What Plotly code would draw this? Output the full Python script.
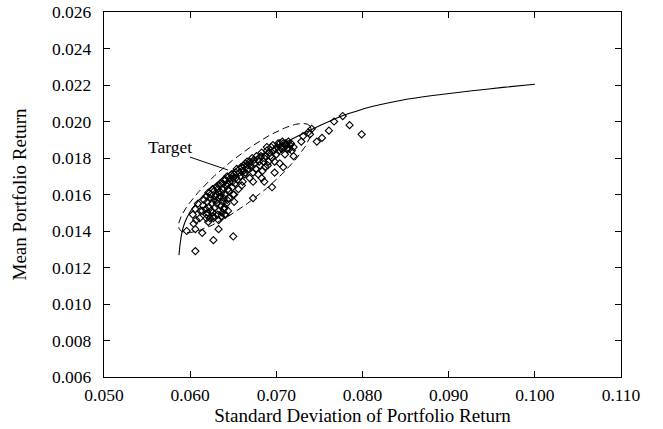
import numpy as np
import plotly.graph_objects as go

# ---------------- data ----------------
frontier_sd = [0.05870, 0.05882, 0.05905, 0.05940, 0.05998, 0.06080, 0.06172, 0.06288, 0.06439,
               0.06560, 0.06694, 0.06850, 0.07008, 0.07251, 0.07507, 0.07774, 0.08087, 0.08470,
               0.08865, 0.09247, 0.09630, 0.10000]
frontier_mean = [0.01268, 0.01323, 0.01394, 0.01449, 0.01504, 0.01557, 0.01603, 0.01655, 0.01712,
                 0.01751, 0.01786, 0.01826, 0.01863, 0.01920, 0.01978, 0.02033, 0.02079, 0.02118,
                 0.02145, 0.02167, 0.02187, 0.02204]

sample_sd = [
    # isolated points
    0.0606, 0.0627, 0.0650, 0.0614, 0.0596, 0.0606, 0.0604, 0.0621, 0.0633, 0.0619,
    0.0627, 0.0633, 0.0640, 0.0614, 0.0673, 0.0651, 0.0651, 0.0695, 0.0686, 0.0660,
    0.0698, 0.0708, 0.0720, 0.0720, 0.0729, 0.0731, 0.0737, 0.0741, 0.0747, 0.0753,
    0.0761, 0.0767, 0.0777, 0.0785, 0.0799, 0.0739,
    # low-left part of the cluster
    0.0603, 0.0606, 0.0609, 0.0611, 0.0607,
    0.0612, 0.0615, 0.0618, 0.0620, 0.0622, 0.0623, 0.0625, 0.0626, 0.0628, 0.0629,
    0.0630, 0.0631, 0.0633, 0.0634, 0.0636, 0.0637, 0.0638, 0.0640, 0.0641, 0.0642,
    0.0644, 0.0619, 0.0627,
    # middle part
    0.0628, 0.0631, 0.0633, 0.0635, 0.0637, 0.0639, 0.0640, 0.0642, 0.0643, 0.0645,
    0.0646, 0.0648, 0.0649, 0.0650, 0.0652, 0.0653, 0.0655, 0.0656, 0.0658, 0.0660,
    0.0661, 0.0663, 0.0645, 0.0650,
    0.0662, 0.0664, 0.0666, 0.0667, 0.0669, 0.0670, 0.0672, 0.0673, 0.0675, 0.0676,
    0.0678, 0.0679, 0.0681, 0.0682, 0.0684, 0.0685, 0.0687, 0.0673, 0.0683, 0.0704,
    # upper part
    0.0688, 0.0689, 0.0691, 0.0692, 0.0694, 0.0695, 0.0697, 0.0698, 0.0700, 0.0701,
    0.0690,
    0.0703, 0.0704, 0.0706, 0.0707, 0.0709, 0.0710, 0.0711, 0.0713, 0.0714, 0.0716,
    0.0718,
    # dense core next to the frontier
    0.0616, 0.0619, 0.0621, 0.0624, 0.0626, 0.0629, 0.0632, 0.0634, 0.0636, 0.0638,
    0.0641, 0.0643, 0.0644, 0.0647, 0.0649, 0.0651, 0.0653, 0.0654, 0.0657, 0.0659,
    0.0662, 0.0664, 0.0667, 0.0669, 0.0671, 0.0674, 0.0677, 0.0680, 0.0683, 0.0686,
    0.0689, 0.0693, 0.0696, 0.0699, 0.0702, 0.0705, 0.0708, 0.0712, 0.0715, 0.0717,
    0.0631, 0.0635, 0.0639, 0.0643, 0.0620, 0.0624, 0.0632, 0.0639, 0.0623, 0.0636,
]
sample_mean = [
    0.0129, 0.0135, 0.0137, 0.0139, 0.0140, 0.0141, 0.0144, 0.0145, 0.0141, 0.0147,
    0.0148, 0.0146, 0.0149, 0.0151, 0.0158, 0.0156, 0.0160, 0.0164, 0.0167, 0.0165,
    0.0172, 0.0175, 0.0181, 0.0186, 0.0189, 0.0192, 0.0194, 0.0196, 0.0189, 0.0191,
    0.0195, 0.0200, 0.0203, 0.0198, 0.0193, 0.0193,
    0.0149, 0.0152, 0.0155, 0.0147, 0.0146,
    0.0151, 0.0154, 0.0152, 0.0156, 0.0153, 0.0158, 0.0155, 0.0150, 0.0157, 0.0153,
    0.0160, 0.0155, 0.0151, 0.0158, 0.0154, 0.0150, 0.0156, 0.0153, 0.0149, 0.0155,
    0.0151, 0.0149, 0.0147,
    0.0162, 0.0164, 0.0161, 0.0166, 0.0163, 0.0168, 0.0160, 0.0165, 0.0170, 0.0162,
    0.0167, 0.0171, 0.0164, 0.0169, 0.0166, 0.0172, 0.0168, 0.0163, 0.0170, 0.0173,
    0.0167, 0.0171, 0.0158, 0.0160,
    0.0176, 0.0172, 0.0178, 0.0174, 0.0169, 0.0176, 0.0180, 0.0172, 0.0177, 0.0174,
    0.0179, 0.0171, 0.0176, 0.0181, 0.0173, 0.0178, 0.0175, 0.0167, 0.0169, 0.0177,
    0.0181, 0.0184, 0.0178, 0.0183, 0.0186, 0.0180, 0.0184, 0.0178, 0.0182, 0.0186,
    0.0176,
    0.0184, 0.0188, 0.0185, 0.0189, 0.0186, 0.0182, 0.0188, 0.0185, 0.0189, 0.0187,
    0.0184,
    0.0157, 0.0159, 0.0161, 0.0160, 0.0163, 0.0159, 0.0163, 0.0165, 0.0161, 0.0166,
    0.0168, 0.0166, 0.0163, 0.0169, 0.0167, 0.0171, 0.0169, 0.0174, 0.0172, 0.0175,
    0.0173, 0.0177, 0.0176, 0.0178, 0.0175, 0.0179, 0.0181, 0.0178, 0.0183, 0.0180,
    0.0186, 0.0181, 0.0187, 0.0185, 0.0188, 0.0186, 0.0188, 0.0187, 0.0185, 0.0188,
    0.0157, 0.0159, 0.0158, 0.0157, 0.0150, 0.0151, 0.0149, 0.0152, 0.0147, 0.0148,
]

x_ticks = [0.05, 0.06, 0.07, 0.08, 0.09, 0.10, 0.11]
y_ticks = [0.006, 0.008, 0.010, 0.012, 0.014, 0.016, 0.018, 0.020, 0.022, 0.024, 0.026]
x_range = [0.05, 0.11]
y_range = [0.006, 0.026]

# "Target" region (ellipse given by its two tips and width ratio on screen)
target_tip_low = (0.05882, 0.01405)
target_tip_high = (0.07391, 0.01975)
target_width_ratio = 0.26
target_label_pos = (0.05766, 0.01860)
target_pointer = [(0.05998, 0.01805), (0.06439, 0.01734)]

# ---------------- layout constants ----------------
W, H = 663, 429
M = dict(l=104, r=42, t=12, b=52)
plot_w = W - M["l"] - M["r"]
plot_h = H - M["t"] - M["b"]
FONT = "Liberation Serif"
FS = 17.5
FS_TITLE = 19

# ellipse in screen-proportional space
sx = plot_w / (x_range[1] - x_range[0])
sy = plot_h / (y_range[1] - y_range[0])
p1 = np.array([target_tip_low[0] * sx, target_tip_low[1] * sy])
p2 = np.array([target_tip_high[0] * sx, target_tip_high[1] * sy])
c = (p1 + p2) / 2
d = p2 - p1
a = np.linalg.norm(d) / 2
u = d / (2 * a)
v = np.array([-u[1], u[0]])
b = a * target_width_ratio
t = np.linspace(0, 2 * np.pi, 240)
pts = c[None, :] + np.outer(a * np.cos(t), u) + np.outer(b * np.sin(t), v)
ell_x = pts[:, 0] / sx
ell_y = pts[:, 1] / sy

fig = go.Figure()
fig.add_trace(go.Scatter(x=frontier_sd, y=frontier_mean, mode="lines",
                         line=dict(color="black", width=1.1, shape="spline", smoothing=0.3),
                         hoverinfo="skip", showlegend=False))
fig.add_trace(go.Scatter(x=ell_x, y=ell_y, mode="lines",
                         line=dict(color="black", width=1, dash="7px,4px"),
                         hoverinfo="skip", showlegend=False))
fig.add_trace(go.Scatter(x=sample_sd, y=sample_mean, mode="markers",
                         marker=dict(symbol="diamond-open", size=5.5, color="black",
                                     line=dict(width=1.1, color="black")),
                         showlegend=False))
fig.add_trace(go.Scatter(x=[p[0] for p in target_pointer], y=[p[1] for p in target_pointer],
                         mode="lines", line=dict(color="black", width=1),
                         hoverinfo="skip", showlegend=False))

fig.add_annotation(x=target_label_pos[0], y=target_label_pos[1], text="Target",
                   showarrow=False, font=dict(family=FONT, size=FS, color="black"))

axis_common = dict(showline=True, linecolor="black", linewidth=1.3, mirror="ticks",
                   ticks="inside", ticklen=6, tickwidth=1, tickcolor="black",
                   showgrid=False, zeroline=False, automargin=False,
                   tickfont=dict(family=FONT, size=FS, color="black"))

fig.update_layout(
    width=W, height=H, margin=M,
    paper_bgcolor="white", plot_bgcolor="white",
    xaxis=dict(range=x_range, tickvals=x_ticks, ticktext=[f"{v:.3f}" for v in x_ticks],
               ticklabelstandoff=2,
               title=dict(text="Standard Deviation of Portfolio Return",
                          font=dict(family=FONT, size=FS_TITLE, color="black"), standoff=0),
               **axis_common),
    yaxis=dict(range=y_range, tickvals=y_ticks, ticktext=[f"{v:.3f}" for v in y_ticks],
               ticklabelstandoff=8,
               title=dict(text="Mean Portfolio Return",
                          font=dict(family=FONT, size=FS_TITLE, color="black"), standoff=20),
               **axis_common),
)

fig.write_html("out.html")
